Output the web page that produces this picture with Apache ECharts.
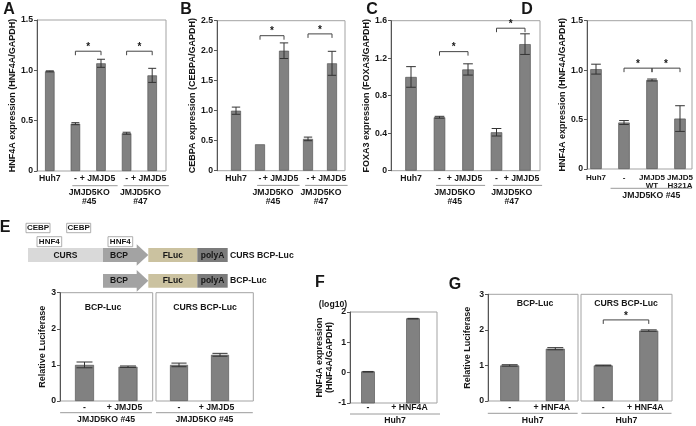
<!DOCTYPE html>
<html><head><meta charset="utf-8">
<script src="https://cdn.jsdelivr.net/npm/echarts@6/dist/echarts.min.js"></script>
<style>html,body{margin:0;padding:0;background:#fff}#c{width:696px;height:426px}</style>
</head><body><div id="c"></div><script>
// ---------- data ----------
const abcLabels = ['Huh7', '-', '+ JMJD5', '-', '+ JMJD5'];
const aValues = [0.99, 0.47, 1.07, 0.375, 0.95];
const aErrors = [0.005, 0.01, 0.04, 0.01, 0.07];
const bValues = [1.0, 0.44, 2.0, 0.53, 1.79];
const bErrors = [0.06, 0, 0.13, 0.03, 0.2];
const cValues = [1.0, 0.57, 1.08, 0.41, 1.35];
const cErrors = [0.11, 0.01, 0.06, 0.04, 0.11];
const dLabels = ['Huh7', '-', 'JMJD5\nWT', 'JMJD5\nH321A'];
const dValues = [1.01, 0.47, 0.9, 0.51];
const dErrors = [0.05, 0.02, 0.01, 0.13];
const eLabels = ['-', '+ JMJD5'];
const eBcpValues = [1.0, 0.95];
const eBcpErrors = [0.08, 0.02];
const eCursValues = [1.0, 1.28];
const eCursErrors = [0.05, 0.04];
const fLabels = ['-', '+ HNF4A'];
const fValues = [0.03, 1.78];
const fErrors = [0.01, 0.01];
const gLabels = ['-', '+ HNF4A'];
const gBcpValues = [1.0, 1.47];
const gBcpErrors = [0.02, 0.03];
const gCursValues = [1.0, 1.98];
const gCursErrors = [0.01, 0.02];
// significance brackets: [fromIndex, toIndex, height]
const aBrackets = [[1, 2, 1.19], [3, 4, 1.19]];
const bBrackets = [[1, 2, 2.25], [3, 4, 2.28]];
const cBrackets = [[1, 2, 1.27], [3, 4, 1.52]];
const dBrackets = [[1, 2, 1.02], [2, 3, 1.02]];
const gBrackets = [[0, 1, 2.28]];
// group labels: [fromIndex, toIndex, text]
const abcGroups = [[1, 2, 'JMJD5KO\n#45'], [3, 4, 'JMJD5KO\n#47']];
const dGroups = [[1, 3, 'JMJD5KO #45']];
const eGroups = [[0, 1, 'JMJD5KO #45']];
const huhGroups = [[0, 1, 'Huh7']];

// ---------- builder ----------
const FONT = '"Liberation Sans", Arial, sans-serif';
const TXT = '#161616';
const grids = [], xAxes = [], yAxes = [], series = [];
const fmt1 = v => (v === 0 ? '0' : v.toFixed(1));
const fmt0 = v => String(v);

function panel(p) {
  const fs = p.labelSize || 8.7;
  const fi = grids.length;
  grids.push({left: p.l, top: p.t, width: p.r - p.l, height: p.b - p.t, show: true,
    borderColor: '#a3a3a3', borderWidth: 1});
  xAxes.push({gridIndex: fi, type: 'value', min: 0, max: 1, show: false});
  yAxes.push({gridIndex: fi, type: 'value', min: p.min, max: p.max, interval: p.interval,
    show: !!p.yName,
    axisLine: {show: true, onZero: false, lineStyle: {color: '#555', width: 1}},
    axisTick: {show: true, length: 3, lineStyle: {color: '#555'}},
    axisLabel: {margin: 4, fontSize: 8.7, fontWeight: 'bold', fontFamily: FONT, color: TXT, formatter: p.fmt},
    splitLine: {show: false},
    name: p.yName || '', nameLocation: 'middle', nameGap: p.nameGap || 15,
    nameTextStyle: {fontSize: 9, fontWeight: 'bold', fontFamily: FONT, color: TXT, lineHeight: 10}});
  const bi = grids.length;
  grids.push({left: p.bl, top: p.t, width: p.br - p.bl, height: p.b - p.t, show: false});
  xAxes.push({gridIndex: bi, type: 'category', data: p.labels, boundaryGap: true,
    axisLine: {show: false}, axisTick: {show: false},
    axisLabel: {interval: 0, margin: p.labelMargin, fontSize: fs, fontWeight: 'bold', fontFamily: FONT,
      color: TXT, lineHeight: p.labelLine || 8,
      formatter: v => (v.indexOf('+ ') === 0 ? '{s|' + v + '}' : v),
      rich: {s: {padding: [0, 7, 0, 0], fontSize: fs, fontWeight: 'bold', fontFamily: FONT, color: TXT}}}});
  yAxes.push({gridIndex: bi, type: 'value', min: p.min, max: p.max, show: false});

  if (p.baseAtMin) {
    series.push({type: 'custom', xAxisIndex: bi, yAxisIndex: bi, silent: true,
      data: p.values.map((v, i) => [i, v]),
      renderItem: (params, api) => {
        const top = api.coord([api.value(0), api.value(1)]);
        const bot = api.coord([api.value(0), p.min]);
        return {type: 'rect', shape: {x: top[0] - p.barW / 2, y: top[1], width: p.barW, height: bot[1] - top[1]},
          style: {fill: '#818181', stroke: '#575757', lineWidth: 0.7}};
      }});
  } else {
    series.push({type: 'bar', xAxisIndex: bi, yAxisIndex: bi, data: p.values, barWidth: p.barW, silent: true,
      itemStyle: {color: '#818181', borderColor: '#575757', borderWidth: 0.7}});
  }
  // error bars
  series.push({type: 'custom', xAxisIndex: bi, yAxisIndex: bi, silent: true, z: 5,
    data: p.values.map((v, i) => [i, v, p.errors[i]]),
    renderItem: (params, api) => {
      const i = api.value(0), v = api.value(1), e = api.value(2);
      if (!e) return null;
      const a = api.coord([i, v + e]), b = api.coord([i, v - e]);
      const hw = p.barW * 0.42;
      const st = {stroke: '#333', lineWidth: 1};
      return {type: 'group', children: [
        {type: 'line', shape: {x1: a[0], y1: a[1], x2: b[0], y2: b[1]}, style: st},
        {type: 'line', shape: {x1: a[0] - hw, y1: a[1], x2: a[0] + hw, y2: a[1]}, style: st},
        {type: 'line', shape: {x1: b[0] - hw, y1: b[1], x2: b[0] + hw, y2: b[1]}, style: st}]};
    }});
  // brackets
  if (p.brackets) {
    series.push({type: 'custom', xAxisIndex: bi, yAxisIndex: bi, silent: true,
      data: p.brackets.map(b => [b[0], b[2], b[1]]),
      renderItem: (params, api) => {
        const br = p.brackets[params.dataIndex];
        const a = api.coord([br[0], br[2]]), b = api.coord([br[1], br[2]]);
        return {type: 'group', children: [
          {type: 'polyline', shape: {points: [[a[0], a[1] + 4], [a[0], a[1]], [b[0], b[1]], [b[0], b[1] + 4]]},
            style: {stroke: '#444', lineWidth: 1, fill: null}},
          {type: 'text', x: (a[0] + b[0]) / 2, y: a[1] + 1,
            style: {text: '*', fill: TXT, font: 'bold 10px ' + FONT, align: 'center', verticalAlign: 'bottom'}}]};
      }});
  }
  // group labels
  if (p.groups) {
    series.push({type: 'custom', xAxisIndex: bi, yAxisIndex: bi, silent: true,
      data: p.groups.map(g => [g[0], p.min, g[1]]),
      renderItem: (params, api) => {
        const g = p.groups[params.dataIndex];
        const band = api.size([1, 0])[0];
        const a = api.coord([g[0], p.min]), b = api.coord([g[1], p.min]);
        const x1 = a[0] - p.groupPad[0] * band, x2 = b[0] + p.groupPad[1] * band;
        const y = a[1] + p.groupLineOff;
        const tx = p.groupTextMid ? (a[0] + b[0]) / 2 + 1 : (x1 + x2) / 2;
        return {type: 'group', children: [
          {type: 'line', shape: {x1: x1, y1: y, x2: x2, y2: y}, style: {stroke: '#9a9a9a', lineWidth: 1}},
          {type: 'text', x: tx, y: y + 2.5,
            style: {text: g[2], fill: TXT, font: 'bold 8.7px ' + FONT, align: 'center', verticalAlign: 'top', lineHeight: 9}}]};
      }});
  }
}

// A
panel({l: 37, r: 166, t: 20, b: 171, bl: 37, br: 165, min: 0, max: 1.5, interval: 0.5, fmt: fmt1,
  labels: abcLabels, values: aValues, errors: aErrors, barW: 9.5, brackets: aBrackets,
  groups: abcGroups, groupPad: [0.12, 0.65], groupLineOff: 14.7, groupTextMid: true, labelMargin: 4,
  yName: 'HNF4A expression (HNF4A/GAPDH)', nameGap: 17});
// B
panel({l: 217, r: 345, t: 20.7, b: 170.7, bl: 224, br: 344, min: 0, max: 2.5, interval: 0.5, fmt: fmt1,
  labels: abcLabels, values: bValues, errors: bErrors, barW: 10, brackets: bBrackets,
  groups: abcGroups, groupPad: [0.12, 0.65], groupLineOff: 14.7, groupTextMid: true, labelMargin: 4,
  yName: 'CEBPA expression (CEBPA/GAPDH)', nameGap: 19});
// C
panel({l: 391, r: 540, t: 20.7, b: 170.7, bl: 396.75, br: 539.25, min: 0, max: 1.6, interval: 0.4, fmt: fmt1,
  labels: abcLabels, values: cValues, errors: cErrors, barW: 11.5, brackets: cBrackets,
  groups: abcGroups, groupPad: [0.12, 0.6], groupLineOff: 14.7, groupTextMid: true, labelMargin: 4,
  yName: 'FOXA3 expression (FOXA3/GAPDH)', nameGap: 13});
// D
panel({l: 587, r: 692, t: 20.7, b: 169, bl: 582, br: 694, min: 0, max: 1.5, interval: 0.5, fmt: fmt1,
  labels: dLabels, values: dValues, errors: dErrors, barW: 11.5, brackets: dBrackets, labelSize: 8, labelLine: 8,
  groups: dGroups, groupPad: [0.48, 0.43], groupLineOff: 19.3, labelMargin: 5,
  yName: 'HNF4A expression (HNF4A/GAPDH)', nameGap: 12});
// E
panel({l: 60, r: 152.7, t: 292.7, b: 401, bl: 62.75, br: 149.75, min: 0, max: 3, interval: 1, fmt: fmt0,
  labels: eLabels, values: eBcpValues, errors: eBcpErrors, barW: 19,
  groups: eGroups, groupPad: [0.56, 0.55], groupLineOff: 11.7, labelMargin: 2.5,
  yName: 'Relative Luciferase', nameGap: 12.5});
panel({l: 156, r: 253.3, t: 292.7, b: 401, bl: 158.5, br: 240.5, min: 0, max: 3, interval: 1, fmt: fmt0,
  labels: eLabels, values: eCursValues, errors: eCursErrors, barW: 18,
  groups: eGroups, groupPad: [0.56, 0.8], groupLineOff: 11.7, labelMargin: 2.5});
// F
panel({l: 350, r: 437, t: 312, b: 403, bl: 345.5, br: 435.5, min: -1, max: 2, interval: 1, fmt: fmt0,
  labels: fLabels, values: fValues, errors: fErrors, barW: 13, baseAtMin: true,
  groups: huhGroups, groupPad: [0.4, 0.6], groupLineOff: 11, labelMargin: 1,
  yName: 'HNF4A expression\n(HNF4A/GAPDH)', nameGap: 14.5});
// G
panel({l: 488, r: 578, t: 294.3, b: 401, bl: 486.9, br: 578.1, min: 0, max: 3, interval: 1, fmt: fmt0,
  labels: gLabels, values: gBcpValues, errors: gBcpErrors, barW: 19,
  groups: huhGroups, groupPad: [0.48, 0.49], groupLineOff: 12.3, labelMargin: 2.5,
  yName: 'Relative Luciferase', nameGap: 15});
panel({l: 581, r: 672, t: 294.3, b: 401, bl: 580.5, br: 671.5, min: 0, max: 3, interval: 1, fmt: fmt0,
  labels: gLabels, values: gCursValues, errors: gCursErrors, barW: 19, brackets: gBrackets,
  groups: huhGroups, groupPad: [0.48, 0.5], groupLineOff: 12.3, labelMargin: 2.5});

// ---------- annotations (letters, diagram, titles) ----------
function T(text, x, y, size, opts) {
  opts = opts || {};
  return {type: 'text', x: x, y: y, silent: true,
    style: {text: text, fill: opts.fill || TXT, font: 'bold ' + size + 'px ' + FONT,
      align: opts.align || 'center', verticalAlign: 'middle'}};
}
function R(x, y, w, h, fill, stroke) {
  return {type: 'rect', silent: true, shape: {x: x, y: y, width: w, height: h},
    style: {fill: fill, stroke: stroke || null, lineWidth: stroke ? 0.8 : 0}};
}
function arrow(x0, x1, tip, yTop, yBot, headTop, headBot, fill) {
  const ym = (yTop + yBot) / 2;
  return {type: 'polygon', silent: true,
    shape: {points: [[x0, yTop], [x1, yTop], [x1, headTop], [tip, ym], [x1, headBot], [x1, yBot], [x0, yBot]]},
    style: {fill: fill}};
}
const g = [];
// panel letters
g.push(T('A', 9, 10, 16), T('B', 186, 10, 16), T('C', 372, 10, 16), T('D', 527, 10, 16),
  T('E', 5, 228, 16), T('F', 320, 283, 16), T('G', 455, 285, 16));
// diagram E
g.push(R(26, 223.3, 24, 9.4, '#fff', '#9a9a9a'), T('CEBP', 38, 228.2, 8));
g.push(R(66.7, 223.3, 24, 9.4, '#fff', '#9a9a9a'), T('CEBP', 78.7, 228.2, 8));
g.push(R(37, 236.7, 24.7, 10, '#fff', '#9a9a9a'), T('HNF4', 49.3, 241.9, 8));
g.push(R(108, 236.7, 24.7, 10, '#fff', '#9a9a9a'), T('HNF4', 120.3, 241.9, 8));
// row 1
g.push(R(28, 248, 75, 14, '#d9d9d9'), T('CURS', 65.5, 255.2, 8.5));
g.push(arrow(103, 136.7, 148.3, 248, 262, 244.3, 265.7, '#a3a3a3'), T('BCP', 119, 255.2, 8.5));
g.push(R(148.3, 248, 49, 14, '#cbc2a0'), T('FLuc', 172.8, 255.2, 8.5));
g.push(R(197.3, 248, 30.4, 14, '#7b7b7b'), T('polyA', 212.5, 255.2, 8.5));
g.push(T('CURS BCP-Luc', 230, 255.2, 8.7, {align: 'left'}));
// row 2
g.push(arrow(103, 136.7, 148.3, 274, 287.7, 270, 291.7, '#a3a3a3'), T('BCP', 119, 281, 8.5));
g.push(R(148.3, 274, 49, 13.7, '#cbc2a0'), T('FLuc', 172.8, 281, 8.5));
g.push(R(197.3, 274, 30.4, 13.7, '#7b7b7b'), T('polyA', 212.5, 281, 8.5));
g.push(T('BCP-Luc', 230, 281, 8.7, {align: 'left'}));
// sub-panel titles
g.push(T('BCP-Luc', 103, 307.3, 8.7), T('CURS BCP-Luc', 205, 307.3, 8.7));
g.push(T('BCP-Luc', 535, 303.5, 8.7), T('CURS BCP-Luc', 626, 303.5, 8.7));
g.push(T('(log10)', 333, 304.5, 8.7));

const chart = echarts.init(document.getElementById('c'), null, {renderer: 'canvas'});
chart.setOption({
  animation: false,
  backgroundColor: '#fff',
  grid: grids, xAxis: xAxes, yAxis: yAxes, series: series,
  graphic: {elements: g}
});
</script></body></html>
